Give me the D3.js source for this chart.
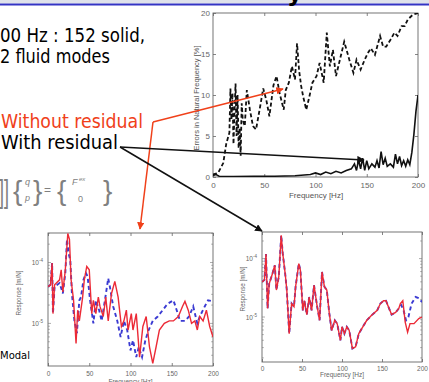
<!DOCTYPE html>
<html><head><meta charset="utf-8">
<script src="https://cdn.jsdelivr.net/npm/d3@7"></script>
<style>
body{margin:0;background:#fff}
svg text{font-family:"Liberation Sans",Arial,sans-serif}
.note{font-family:"DejaVu Sans",sans-serif}
.axis path{display:none}
.axis line{stroke:#666;stroke-width:0.8}
.axis text{fill:#666}
</style></head><body><script>
// error in natural frequency [%] vs frequency [Hz]
var noResidual = [[0,0.3],[5,0.5],[10,1.7],[13,4.1],[16,5.4],[17,10.8],[18,7],[19,10.2],[20,4],[21,8],[22,11.4],[23,5],[24,10],[25,3.5],[26,6],[27,2.6],[28,9],[29,7],[31,6.2],[33,10.6],[36,8.2],[39,6.2],[42,5.8],[46,8.6],[49,10.8],[52,9.4],[55,7.4],[59,11.2],[62,12.3],[65,10.2],[69,8.2],[71,10.6],[74,11.5],[77,13.5],[80,11.9],[82,16.3],[84,13],[86,11.1],[88,9.8],[91,8.2],[94,9.8],[97,11.5],[101,12.3],[104,13.9],[108,11.5],[111,17.6],[114,13.5],[117,15.5],[120,12.3],[124,14.4],[128,16.5],[133,14.3],[137,12.7],[140,14.3],[144,13.1],[148,14.3],[151,15.1],[154,15.7],[158,14.9],[163,17.2],[166,15.9],[169,15.9],[173,16.7],[177,17.6],[180,17.2],[184,18.4],[187,18.4],[190,19.2],[195,19.8],[200,20]];
var withResidual = [[0,0.2],[3,0.3],[6,0.1],[20,0.05],[40,0.1],[60,0.1],[80,0.15],[95,0.3],[100,0.5],[105,0.3],[110,0.6],[115,0.4],[120,0.7],[125,0.5],[130,0.8],[135,1.0],[138,1.6],[140,0.8],[142,2.1],[144,1.0],[146,2.3],[148,0.8],[150,2.0],[152,1.0],[155,1.6],[158,1.2],[160,2.0],[162,1.1],[164,3.1],[166,1.5],[168,2.3],[170,1.3],[173,1.6],[176,1.2],[178,2.8],[180,1.6],[182,2.5],[184,1.4],[186,2.0],[188,1.3],[190,2.1],[192,1.5],[194,3.0],[196,5.2],[198,8.0],[200,10]];

// response [m/N], left panel (without residual)
var leftRef = [[0,4.0e-5],[3,4.3e-5],[5,9.8e-5],[6,1.45e-5],[8,4.3e-5],[14,5.2e-5],[16,7.6e-5],[18,3.3e-5],[21,7.6e-5],[24,3.0e-4],[26,2.4e-4],[28,5.2e-5],[31,2.4e-5],[34,4.7e-6],[36,1.65e-5],[38,1.1e-5],[42,2.7e-5],[44,5.2e-5],[47,8.6e-5],[50,7.6e-5],[53,1.45e-5],[55,2.4e-5],[58,1.45e-5],[61,2.7e-5],[63,1.9e-5],[67,1.3e-5],[70,2.7e-5],[73,1.1e-5],[77,3.1e-5],[81,4.9e-5],[85,2.7e-5],[89,8.9e-6],[92,1.1e-5],[95,1.65e-5],[97,7.8e-6],[101,1.45e-5],[103,7.8e-6],[107,1.45e-5],[111,2.8e-6],[115,8.9e-6],[119,1.3e-5],[123,4.1e-6],[127,2.2e-6],[131,4.1e-6],[135,7.8e-6],[141,1.0e-5],[147,1.1e-5],[152,1.1e-5],[158,1.3e-5],[163,1.9e-5],[166,2.3e-5],[170,1.65e-5],[174,1.0e-5],[178,1.1e-5],[181,7.8e-6],[184,1.3e-5],[188,1.1e-5],[192,1.65e-5],[196,8.9e-6],[200,6.0e-6]];
var leftModal = [[0,4.0e-5],[3,4.3e-5],[5,9.8e-5],[6,1.45e-5],[8,4.0e-5],[14,4.6e-5],[18,3.1e-5],[21,6.7e-5],[23,2.4e-4],[25,1.4e-4],[27,1.1e-4],[29,3.1e-5],[32,1.1e-5],[35,6.9e-6],[38,2.4e-5],[40,2.7e-5],[43,5.2e-5],[46,6.7e-5],[48,5.9e-5],[51,2.4e-5],[55,1.0e-5],[58,2.4e-5],[62,1.65e-5],[65,1.1e-5],[69,2.4e-5],[73,5.5e-5],[75,4.0e-5],[79,1.9e-5],[84,1.1e-5],[88,6.0e-6],[92,1.1e-5],[96,7.8e-6],[100,3.6e-6],[103,5.3e-6],[107,2.8e-6],[110,4.1e-6],[114,2.8e-6],[118,5.3e-6],[122,7.8e-6],[127,1.1e-5],[133,1.3e-5],[139,1.65e-5],[145,2.1e-5],[152,2.4e-5],[156,1.65e-5],[160,1.1e-5],[166,1.1e-5],[171,1.3e-5],[176,1.9e-5],[181,1.0e-5],[184,1.3e-5],[190,1.9e-5],[194,2.4e-5],[200,2.3e-5]];

// response [m/N], right panel (with residual)
var rightRef = [[0,4.0e-5],[3,4.3e-5],[5,1.2e-4],[7,1.4e-5],[9,3.7e-5],[13,5.5e-5],[16,7.7e-5],[18,2.9e-5],[21,4.9e-5],[24,2.5e-4],[26,1.2e-4],[29,5.5e-5],[31,2.9e-5],[34,5.2e-6],[37,1.7e-5],[40,1.5e-5],[42,3.3e-5],[46,8.2e-5],[48,6.3e-5],[51,1.3e-5],[53,1.9e-5],[56,1.1e-5],[59,2.2e-5],[62,1.3e-5],[65,3.5e-5],[69,1.5e-5],[72,8.8e-6],[75,5.9e-5],[78,3.3e-5],[81,2.9e-5],[84,1.2e-5],[87,5.9e-6],[91,8.8e-6],[94,7.7e-6],[98,4.0e-6],[100,6.8e-6],[103,5.2e-6],[106,6.8e-6],[109,5.9e-6],[113,2.9e-6],[117,3.1e-6],[121,5.2e-6],[126,6.8e-6],[131,8.8e-6],[137,1.07e-5],[144,1.3e-5],[148,1.7e-5],[152,1.9e-5],[155,1.9e-5],[158,1.5e-5],[162,1.1e-5],[167,1.2e-5],[171,1.4e-5],[173,1.7e-5],[176,1.9e-5],[179,8.2e-6],[182,5.5e-6],[185,7.7e-6],[190,7.7e-6],[196,9.4e-6],[200,1.0e-5]];
var rightModalTail = [[174,1.6e-5],[177,1.3e-5],[180,8.8e-6],[183,1.0e-5],[187,1.7e-5],[192,2.2e-5],[196,2.1e-5],[200,1.8e-5]];
var rightModal = rightRef.filter(function(d) { return d[0] <= 171; }).concat(rightModalTail);

var freqTicks = [0, 50, 100, 150, 200];
var errTicks = [0, 5, 10, 15, 20];

var w = 429, h = 382;
var svg = d3.select("body").append("svg").attr("width", w).attr("height", h);
svg.append("rect").attr("width", w).attr("height", h).attr("fill", "#fff");

// slide header strip
svg.append("rect").attr("width", w).attr("height", 3.5).attr("fill", "#dfe2ea");
svg.append("line").attr("x1", 0).attr("x2", w).attr("y1", 4.5).attr("y2", 4.5)
    .attr("stroke", "#3434c4").attr("stroke-width", 2);
svg.append("text").attr("x", 287).attr("y", 1).attr("font-size", 24)
    .attr("font-weight", "bold").attr("class", "note").text("y");

function frame(x, y) {
    var g = svg.append("g");
    var x0 = x.range()[0], x1 = x.range()[1], y0 = y.range()[0], y1 = y.range()[1];
    g.append("rect").attr("x", x0).attr("y", y1).attr("width", x1 - x0).attr("height", y0 - y1)
        .attr("fill", "#fff").attr("stroke", "#666").attr("stroke-width", 0.9);
    g.append("g").attr("class", "axis").attr("transform", "translate(0," + y1 + ")")
        .call(d3.axisTop(x).tickValues(freqTicks).tickSize(-3).tickFormat(""));
    return g;
}

function clipFor(id, x, y) {
    svg.append("clipPath").attr("id", id).append("rect")
        .attr("x", x.range()[0]).attr("y", y.range()[1])
        .attr("width", x.range()[1] - x.range()[0]).attr("height", y.range()[0] - y.range()[1]);
}

// ---- top chart
var xT = d3.scaleLinear().domain([0, 200]).range([213, 418]);
var yT = d3.scaleLinear().domain([0, 20]).range([177, 13]);
var topG = frame(xT, yT);
topG.append("g").attr("class", "axis").attr("transform", "translate(0,177)")
    .call(d3.axisBottom(xT).tickValues(freqTicks).tickSize(-3).tickPadding(5))
    .selectAll("text").attr("font-size", 8);
topG.append("g").attr("class", "axis").attr("transform", "translate(213,0)")
    .call(d3.axisLeft(yT).tickValues(errTicks).tickSize(-3).tickPadding(3))
    .selectAll("text").attr("font-size", 8);
topG.append("g").attr("class", "axis").attr("transform", "translate(418,0)")
    .call(d3.axisRight(yT).tickValues(errTicks).tickSize(-3).tickFormat(""));
topG.append("text").attr("x", 316).attr("y", 198).attr("text-anchor", "middle")
    .attr("font-size", 8).attr("fill", "#555").text("Frequency [Hz]");
topG.append("text").attr("transform", "translate(199,98) rotate(-90)").attr("text-anchor", "middle")
    .attr("font-size", 7.5).attr("fill", "#555").text("Errors in Natural Frequency [%]");
clipFor("clipT", xT, yT);
var lineT = d3.line().x(function(d) { return xT(d[0]); }).y(function(d) { return yT(d[1]); });
topG.append("path").datum(noResidual).attr("d", lineT).attr("clip-path", "url(#clipT)")
    .attr("fill", "none").attr("stroke", "#111").attr("stroke-width", 1.8).attr("stroke-dasharray", "4,2.5");
topG.append("path").datum(withResidual).attr("d", lineT).attr("clip-path", "url(#clipT)")
    .attr("fill", "none").attr("stroke", "#111").attr("stroke-width", 1.6);

// ---- bottom charts
function responsePlot(id, x, y, ref, modal, labelX, labelY, tickPad, xLabelY) {
    var g = frame(x, y);
    var x0 = x.range()[0], x1 = x.range()[1];
    g.append("g").attr("class", "axis").attr("transform", "translate(0," + y.range()[0] + ")")
        .call(d3.axisBottom(x).tickValues(freqTicks).tickSize(-3).tickPadding(tickPad))
        .selectAll("text").attr("font-size", 6.5);
    // log minor ticks
    var minor = [];
    [-6, -5, -4, -3].forEach(function(e) {
        for (var m = 1; m < 10; m++) {
            var v = m * Math.pow(10, e);
            if (v > y.domain()[0] && v < y.domain()[1]) minor.push([v, m == 1 ? 3 : 1.8]);
        }
    });
    g.selectAll(".mt").data(minor).enter().append("path")
        .attr("stroke", "#777").attr("stroke-width", 0.6)
        .attr("d", function(d) {
            var yy = y(d[0]);
            return "M" + x0 + "," + yy + "h" + d[1] + "M" + x1 + "," + yy + "h" + (-d[1]);
        });
    var lbl = g.selectAll(".yl").data([1e-4, 1e-5]).enter().append("text")
        .attr("x", x0 - 5).attr("y", function(d) { return y(d) + 2.5; })
        .attr("text-anchor", "end").attr("font-size", 6.5).attr("fill", "#666");
    lbl.append("tspan").text("10");
    lbl.append("tspan").attr("dy", -3).attr("font-size", 4.5)
        .text(function(d) { return d == 1e-4 ? "-4" : "-5"; });
    g.append("text").attr("transform", "translate(" + labelX + "," + labelY + ") rotate(-90)")
        .attr("text-anchor", "middle").attr("font-size", 6.3).attr("fill", "#666").text("Response [m/N]");
    g.append("text").attr("x", (x0 + x1) / 2).attr("y", xLabelY).attr("text-anchor", "middle")
        .attr("font-size", 6.5).attr("fill", "#666").text("Frequency [Hz]");
    clipFor(id, x, y);
    var ln = d3.line().x(function(d) { return x(d[0]); }).y(function(d) { return y(d[1]); });
    g.append("path").datum(modal).attr("d", ln).attr("clip-path", "url(#" + id + ")")
        .attr("fill", "none").attr("stroke", "#3a3ad2").attr("stroke-width", 1.9).attr("stroke-dasharray", "4,3");
    g.append("path").datum(ref).attr("d", ln).attr("clip-path", "url(#" + id + ")")
        .attr("fill", "none").attr("stroke", "#ec2a36").attr("stroke-width", 1.4);
}

var xL = d3.scaleLinear().domain([0, 200]).range([48, 213]);
var yL = d3.scaleLog().domain([2.0e-6, 3.05e-4]).range([366, 233]);
responsePlot("clipL", xL, yL, leftRef, leftModal, 21, 293, 5, 384);
var xR = d3.scaleLinear().domain([0, 200]).range([262, 422]);
var yR = d3.scaleLog().domain([1.7e-6, 2.85e-4]).range([362, 232]);
responsePlot("clipR", xR, yR, rightRef, rightModal, 245, 289, 4, 377);

// ---- slide text
function note(t, x, y, len, color) {
    svg.append("text").attr("class", "note").attr("x", x).attr("y", y).attr("font-size", 19)
        .attr("fill", color || "#000").attr("textLength", len).attr("lengthAdjust", "spacingAndGlyphs").text(t);
}
note("00 Hz : 152 solid,", 0, 42, 145);
note("2 fluid modes", 0, 63, 110);
note("Without residual", 1, 128, 142, "#f0401a");
note("With residual", 1, 149, 117);
svg.append("text").attr("class", "note").attr("x", 0).attr("y", 359).attr("font-size", 10).text("Modal");

// equation fragment
var eq = svg.append("g").attr("fill", "#808080").attr("font-family", "DejaVu Serif, serif");
eq.append("text").attr("x", -1).attr("y", 202).attr("font-size", 32).attr("textLength", 10)
    .attr("lengthAdjust", "spacingAndGlyphs").text("]]");
eq.append("text").attr("x", 13).attr("y", 200).attr("font-size", 28).text("{");
eq.append("text").attr("x", 25).attr("y", 185).attr("font-size", 9).attr("font-style", "italic").text("q");
eq.append("text").attr("x", 25).attr("y", 201).attr("font-size", 9).attr("font-style", "italic").text("p");
eq.append("text").attr("x", 33).attr("y", 200).attr("font-size", 28).text("}");
eq.append("text").attr("x", 44).attr("y", 194).attr("font-size", 12).text("=");
eq.append("text").attr("x", 57).attr("y", 200).attr("font-size", 28).text("{");
eq.append("text").attr("x", 72).attr("y", 185).attr("font-size", 9).attr("font-style", "italic").text("F");
eq.append("text").attr("x", 79).attr("y", 181).attr("font-size", 6).attr("font-style", "italic").text("ex");
eq.append("text").attr("x", 78).attr("y", 202).attr("font-size", 9).text("0");
eq.append("text").attr("x", 103).attr("y", 200).attr("font-size", 28).text("}");

// ---- arrows
var defs = svg.append("defs");
[["ahR", "#f0401a"], ["ahK", "#111"]].forEach(function(m) {
    defs.append("marker").attr("id", m[0]).attr("viewBox", "0 0 10 10").attr("refX", 9).attr("refY", 5)
        .attr("markerWidth", 5).attr("markerHeight", 5).attr("orient", "auto")
        .append("path").attr("d", "M0,0L10,5L0,10z").attr("fill", m[1]);
});
var arrows = [
    [[153, 122], [283, 89], "#f0401a", "ahR"],
    [[153, 122], [140, 229], "#f0401a", "ahR"],
    [[120, 147], [364, 160], "#111", "ahK"],
    [[120, 147], [262, 231], "#111", "ahK"]
];
svg.selectAll(".arw").data(arrows).enter().append("line")
    .attr("x1", function(d) { return d[0][0]; }).attr("y1", function(d) { return d[0][1]; })
    .attr("x2", function(d) { return d[1][0]; }).attr("y2", function(d) { return d[1][1]; })
    .attr("stroke", function(d) { return d[2]; }).attr("stroke-width", 1.5)
    .attr("marker-end", function(d) { return "url(#" + d[3] + ")"; });
</script></body></html>
